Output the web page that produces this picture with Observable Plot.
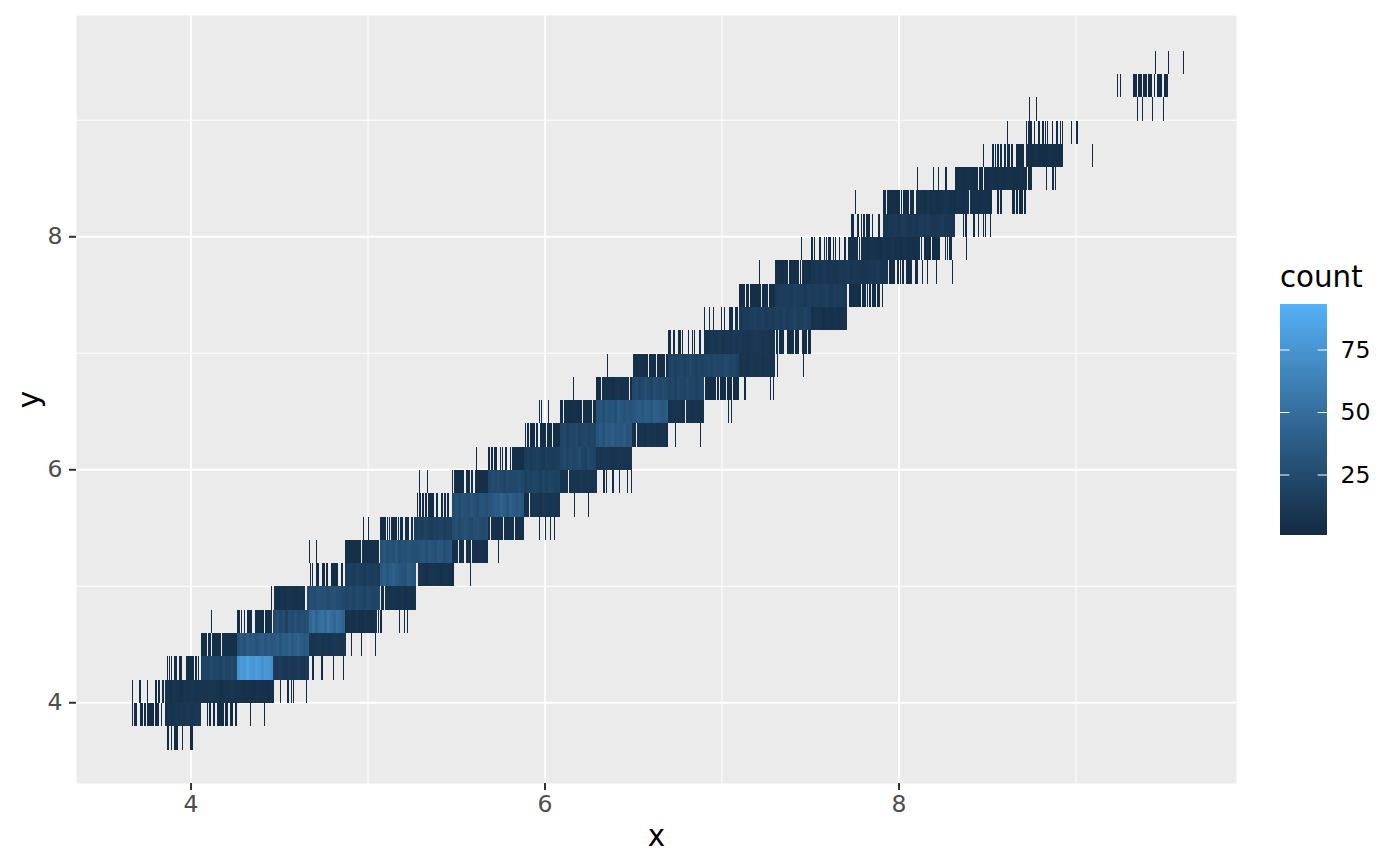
<!DOCTYPE html>
<html>
<head>
<meta charset="utf-8">
<script src="https://cdn.jsdelivr.net/npm/d3@7"></script>
<script src="https://cdn.jsdelivr.net/npm/@observablehq/plot@0.6"></script>
<style>
html,body{margin:0;padding:0;background:#fff;}
#wrap{position:relative;width:1400px;height:866px;font-family:"DejaVu Sans",sans-serif;overflow:hidden;}
#plot{position:absolute;left:0;top:0;}
#legend{position:absolute;left:1240px;top:255px;}
#legendTitle{position:absolute;left:1280px;top:262px;font-size:29.3px;line-height:30px;color:#000;}
svg{display:block;}
</style>
</head>
<body>
<div id="wrap"><div id="plot"></div><div id="legend"></div><div id="legendTitle">count</div></div>
<script>
// x in hundredths. A plain number is a single bin with one diamond;
// [from, to, counts...] is a stretch of neighbouring bins, with counts read across it.
const r36=[387,389,391,392,395,400,401];
const r38=[366.9,[367.8,369.7,2],[371.2,372.9,2],374,[375.2,376.8,2],377.4,378.5,[379.7,381.9,2],383.2,[385.3,405.7,6,8,7,9,8,10,9,11,10,9,11,10],409.2,410.7,413,[414.7,417.5,2],418.1,419.8,420.7,[422,423.7,2],[424.9,426,2],433.5,441.4];
const r40=[366.9,371.2,375.3,[379.7,380.8,2],381.9,384.2,[385.3,405.7,7,6,8,7,6,8,7,9,7,8],[405.7,426,8,7,9,8,7,6,8,7,9,7],[426,446.9,7,6,5,6,5,7,5,6,4,5],450.5,[454.2,455.4,2],456.7,457.8,465.2];
const r42=[386.6,387.8,388.9,[390.4,392.1,2],[393.2,394.9,2],[397.2,401.7,3],[402.3,403.4,2],404.2,[405.7,426,18,21,19,23,20,22,19,24,21,20,23,22],[426,446.3,74,79,76,84,78,75,80,77,73,78,76,72],[446.3,466.7,13,11,14,12,10,13,11,12,14,10,9,12],468.9,474,480.4,486.1];
const r44=[[405.7,409,3],[409.6,411.3,3],[411.9,417,4],[417.5,426,5],[426,446.3,30,34,31,36,33,35,30,34,37,32,35,33],[446.3,466.7,34,37,33,38,36,40,35,38,42,37,34,36],[466.7,487.6,9,8,10,11,8,9,7,10,12,9,8,10],490.6,496.2,504.3];
const r46=[411.5,[426,427.7,2],428.4,430.1,[431.6,434.5,2],[436.2,440.1,3],440.7,[441.8,445.8,3],[446.3,466.7,24,28,22,26,18,27,25,29,24,27,26,28],[466.7,487,45,50,42,48,52,46,55,48,44,50,47,43],[487,505.1,5,7,6,8,6,5,7,6,5,7],[505.6,506.4,2],507.3,517.7,520.5,522.2];
const r48=[445.5,[446.9,464.4,6,5,7,6,8,7,6,5,7,6],[465.5,487,24,28,26,30,27,29,25,28,30,27,26,24],[487,506.8,20,23,21,24,22,19,23,21,20,22],[507.4,509,2],[509.6,527.1,7,6,8,7,6,8,5,7,6,7]];
const r50=[467.6,468.6,[470.6,472.3,2],[474,475.7,2],476.8,[479.1,483.1,3],485.3,[487,506.8,13,16,14,17,15,12,16,14,15,13],[506.8,527.1,34,38,32,37,40,35,33,31,30,36,34,31],[528.3,547.5,8,7,6,8,9,7,6,7,8,6],548,557.8];
const r52=[466.9,470.8,[487,496,5],[496.6,506.2,6],[506.8,527.1,29,32,27,31,28,33,26,30,27,32,29,28],[527.1,547.5,27,30,32,28,33,31,29,34,32,27,30,33],[547.5,550.9,6],[551.4,554.2,5],[555.4,558.2,5],[558.8,567.8,6,5,7,6,5],573.8];
const r54=[497.4,500.2,[506.8,510.2,3],510.9,512.1,[513,516.4,4],517.2,[518.1,519.8,3],[520.9,523.2,3],[524.3,525.4,3],[526,547.5,15,18,16,19,17,14,18,16,19,15,17,16],[547.5,567.8,25,28,24,27,29,26,23,27,28,25,24,26],[567.8,568.9,4],[569.5,576.3,5],[576.8,582.5,6],[583.1,588.1,5],596.9,600.2,603,605.3];
const r56=[527.9,529.4,[530.5,531.7,2],532.8,[533.9,536.2,2],536.7,[538.4,539.6,2],541.8,[543,544.1,2],545.2,[547.5,567.8,26,29,25,31,28,27,32,29,26,30,31,28],[567.8,588.1,31,34,38,35,42,37,33,40,37,34,36,32],[588.1,591,5],[591.5,608.5,8,10,9,7,11,9,8,10,9,7],616.6,624.5];
const r58=[529,533.5,547.7,[548.6,554.3,3],[555.4,557.6,3],[558.2,559.3,2],[560.5,567.8,4],[567.8,588.1,22,25,23,26,24,21,25,22,24,23,26,22],[588.1,608.5,17,20,18,21,19,16,20,18,21,19,17,18],[608.5,613,7],[613.6,629.4,8,9,7,10,8,9,7,8],[632.8,633.9,2],634.8,[637.9,639,2],642,646.5,648.8];
const r60=[561.2,[567.8,568.9,2],[569.5,570.6,2],[571.2,572.9,2],574.9,576,[577.4,578.5,2],580.5,[581.4,588.1,4],[588.1,608.5,14,16,13,15,17,14,12,16,15,13,14,16],[608.5,628.8,20,23,19,24,21,22,25,20,18,23,21,19],[628.8,649.2,9,8,10,9,7,8,10,9,8,7]];
const r62=[588.9,[589.8,591,2],[591.5,594.4,2],[594.9,596,2],[597.2,600.6,3],[601.1,604,3],[604.5,608.5,3],[608.5,628.8,19,23,17,22,20,24,18,21,23,19,22,20],[628.8,649.2,32,35,30,36,34,38,33,35,32,37,31,33],[649.2,651.4,5],[652,669.5,7,8,6,9,7,8,6,7,8,6],673.6,687.8];
const r64=[596.8,597.9,601.9,[608.5,610.2,2],[610.7,620.9,4,5,4],[621.5,626.6,4],[627.1,628.8,3],[628.8,649.2,29,32,27,33,31,32,28,35,32,30,33,31],[649.2,669.5,32,35,37,33,38,36,34,39,38,35,33,37],[669.5,679.1,6,8,7,6],[679.6,689.8,7,6,8,6],703.5,705.2];
const r66=[616,[628.8,631.6,3],[632.2,647.4,5,6,5,7,5,6],[648,649.2,2],[649.2,669.5,22,25,20,24,27,23,21,26,24,22,25,23],[669.5,689.8,19,22,18,23,21,20,24,19,22,18,20,21],[690.4,696.6,4],[697.1,698.3,2],[698.8,702.2,3],[702.8,705.6,3],[706.2,709.6,3],[712.4,713.5,2],727.3,729];
const r68=[635.2,[649.7,658.2,4,5,4],[658.7,662.7,4],[663.2,667.8,4],[668.3,669.5,2],[669.5,689.8,18,21,17,20,22,18,19,23,20,17,21,19],[689.8,709.6,20,22,19,24,21,23,20,25,22,19,21,18],[709.6,729.9,8,9,7,10,8,9,7,8,9,7],731.2,745.9];
const r70=[[669.5,671.2,2],[672.3,673.4,2],[675.1,676.8,2],677.7,681,683.3,684.5,[687,688.1,2],[689.8,729.9,6,8,10,9,11,8,10,9,12,10,11,9,8,10,12,11,9,10,8,7],[730.5,731.6,3],[732.2,735,3],[736.7,740.6,3],[741.2,743.5,3],[745.2,748,3],[748.6,750.2,2]];
const r72=[690,692.9,695.1,699.7,701.3,[704,706.2,3],[707.4,709.1,3],[709.6,750.3,12,14,13,15,17,14,16,13,15,14,17,15,18,14,16,19,15,17,20,16],[750.3,770.6,6,8,7,5,7,6,8,6,5,7]];
const r74=[[709.6,713,3],[713.6,715.3,3],[715.8,722,4],[722.6,726,4],[726.6,729.9,4],[729.9,770.6,13,15,14,16,13,17,15,14,12,16,14,15,13,14,16,12,15,13,14,12],[771.8,778.6,4,5,4],[779.1,781.4,2],782.2,[783.1,784.2,2],[784.8,787,2],[787.6,789.3,2],790.7];
const r76=[721.1,[730,737.3,5,4,5],[737.9,743.5,4,5],744.4,[745.2,750.3,5],[750.3,793.8,9,11,10,12,9,10,8,11,10,12,9,11,10,8,9,11,10,12,9,7],[794.4,797.8,3],[798.9,800,2],800.9,[801.7,802.8,2],[804,807.4,3],[809.1,810.7,2],813.2,816,821.1,830.1];
const r78=[744.8,750.8,752.3,[755,756,2],758.1,759.2,[760.1,761.6,2],763.2,764.1,766.4,[768.9,770.1,2],[771.2,776.9,5],777.7,[778.6,811.9,6,5,7,6,5,7,6,8,6,5,7,6,5,6],812.7,[814.1,818.1,3],[818.8,823.2,3],826.3,827.4,[828.3,830,2],838];
const r80=[[772.9,774.6,2],[776.3,777.4,2],778.8,[779.7,780.8,2],[781.4,783.6,2],785,[788.2,789.3,2],[791,831.6,9,11,10,12,10,13,11,9,12,10,13,12,14,11,10,12,13,11,10,9],836.4,[837.3,838.4,2],[841.8,843,2],844.9,847.6,848.8,851.6];
const r82=[775.4,[791,792.7,2],[793.2,800.6,3,4,3],[801.1,801.7,2],[802.3,805.7,3],[806.2,808.5,3],[809.6,828.8,6,7,5,8,6,7,5,6,8,7],[828.8,839.5,6,5,7,6,5,6],[840.1,852.5,5,6,4,6,5,4],[855.4,856.5,2],857.6,[863.8,864.4,2],865,866.6,868.3,869.5,[870.6,871.7,2]];
const r84=[810.4,819.4,822.2,[826,827.1,2],[831.6,844.6,4,5,4,6,5,4],[845.2,847.4,3],[848,872.3,4,5,6,4,5,4,6,5,4,5,6,4],[872.9,875.1,3],883.2,[886.4,887.5,2],888.4];
const r86=[847.6,[852.5,853.7,2],854.7,[855.4,856.5,2],[857,858.2,2],[859.3,860.4,2],[861,862.9,2],[863.3,864.4,2],[866.1,870.6,3],[871.7,892.6,4,3,5,4,3,4,5,3,4,3],909.2];
const r88=[861.2,872,[872.9,875.1,2],876.5,[878.5,879.6,2],[880.8,881.9,2],882.7,883.9,886.7,[888.7,889.8,2],891.2,892.3,897.5,[900,901.1,2]];
const r90=[873.6,877.6,934.6,937.4,943.1,949.3];
const r92=[923.3,925,[932.2,934.4,2],[935,937.3,2],[937.8,940.1,2],[940.7,942.9,2],944.3,[945.7,948.6,2],[949.7,952,2]];
const r94=[944.8,952.1,960.6];

const rowBottoms=[3.6,3.8,4.0,4.2,4.4,4.6,4.8,5.0,5.2,5.4,5.6,5.8,6.0,6.2,6.4,6.6,6.8,7.0,7.2,7.4,7.6,7.8,8.0,8.2,8.4,8.6,8.8,9.0,9.2,9.4];
const rowCells=[r36,r38,r40,r42,r44,r46,r48,r50,r52,r54,r56,r58,r60,r62,r64,r66,r68,r70,r72,r74,r76,r78,r80,r82,r84,r86,r88,r90,r92,r94];
const rowHeight=0.2;
const majorTicks=[4,6,8];
const minorTicks=[5,7,9];
const legendTicks=[25,50,75];
const countDomain=[1,93];
const lowColor="#132B43", highColor="#56B1F7";

const cells=[];
rowCells.forEach((row,i)=>{
  const y1=rowBottoms[i], y2=y1+rowHeight;
  for(const c of row){
    if(typeof c==="number"){
      cells.push({x1:(c-0.35)/100,x2:(c+0.35)/100,y1,y2,count:1});
    }else{
      const [a,b,...counts]=c, w=(b-a)/counts.length;
      counts.forEach((n,j)=>cells.push({x1:(a+j*w)/100,x2:(a+(j+1)*w)/100,y1,y2,count:n}));
    }
  }
});
const colorScale={type:"linear",domain:countDomain,range:[lowColor,highColor],interpolate:d3.interpolateLab,clamp:true};

const chart=Plot.plot({
  width:1400,height:866,
  marginLeft:76,marginRight:164,marginTop:15,marginBottom:83,
  style:{fontFamily:"DejaVu Sans",background:"transparent"},
  x:{domain:[3.35,9.904],label:null},
  y:{domain:[3.313,9.906],label:null},
  color:colorScale,
  marks:[
    Plot.frame({fill:"#EBEBEB",stroke:null}),
    Plot.ruleX(minorTicks,{stroke:"#fff",strokeWidth:1.05,dx:-0.5}),
    Plot.ruleY(minorTicks,{stroke:"#fff",strokeWidth:1.05,dy:-0.7}),
    Plot.ruleX(majorTicks,{stroke:"#fff",strokeWidth:2.1,dx:-0.5}),
    Plot.ruleY(majorTicks,{stroke:"#fff",strokeWidth:2.1,dy:-0.7}),
    Plot.rect(cells,{x1:"x1",x2:"x2",y1:"y1",y2:"y2",fill:"count",shapeRendering:"crispEdges"}),
    Plot.axisX({ticks:majorTicks,tickSize:7,tickPadding:5,strokeWidth:2,stroke:"#333333",color:"#4D4D4D",fontSize:23.5,label:null,dx:-0.5,tickFormat:d=>String(d)}),
    Plot.axisY({ticks:majorTicks,tickSize:7,tickPadding:7,strokeWidth:2,stroke:"#333333",color:"#4D4D4D",fontSize:23.5,label:null,dy:-0.7,tickFormat:d=>String(d)}),
    Plot.text(["x"],{frameAnchor:"bottom",dy:62,fontSize:29.3,fill:"#000"}),
    Plot.text(["y"],{frameAnchor:"left",textAnchor:"middle",dx:-47,rotate:-90,fontSize:29.3,fill:"#000"})
  ]
});
document.getElementById("plot").appendChild(chart);

const legendSteps=d3.range(0.8,93.2,0.4);
const legend=Plot.plot({
  width:150,height:290,
  marginLeft:40,marginRight:63,marginTop:49,marginBottom:10,
  style:{fontFamily:"DejaVu Sans",background:"transparent"},
  x:{domain:[0,1],axis:null},
  y:{domain:[0.8,93.2],label:null},
  color:colorScale,
  marks:[
    Plot.rect(legendSteps,{x1:0,x2:1,y1:d=>d,y2:d=>d+0.4,fill:d=>d,shapeRendering:"crispEdges"}),
    Plot.ruleY(legendTicks,{x1:0,x2:0.2,stroke:"#fff",strokeWidth:1}),
    Plot.ruleY(legendTicks,{x1:0.8,x2:1,stroke:"#fff",strokeWidth:1}),
    Plot.axisY({anchor:"right",ticks:legendTicks,tickSize:0,tickPadding:13,color:"#000",fontSize:23.5,label:null,tickFormat:d=>String(d)})
  ]
});
document.getElementById("legend").appendChild(legend);
</script>
</body>
</html>
